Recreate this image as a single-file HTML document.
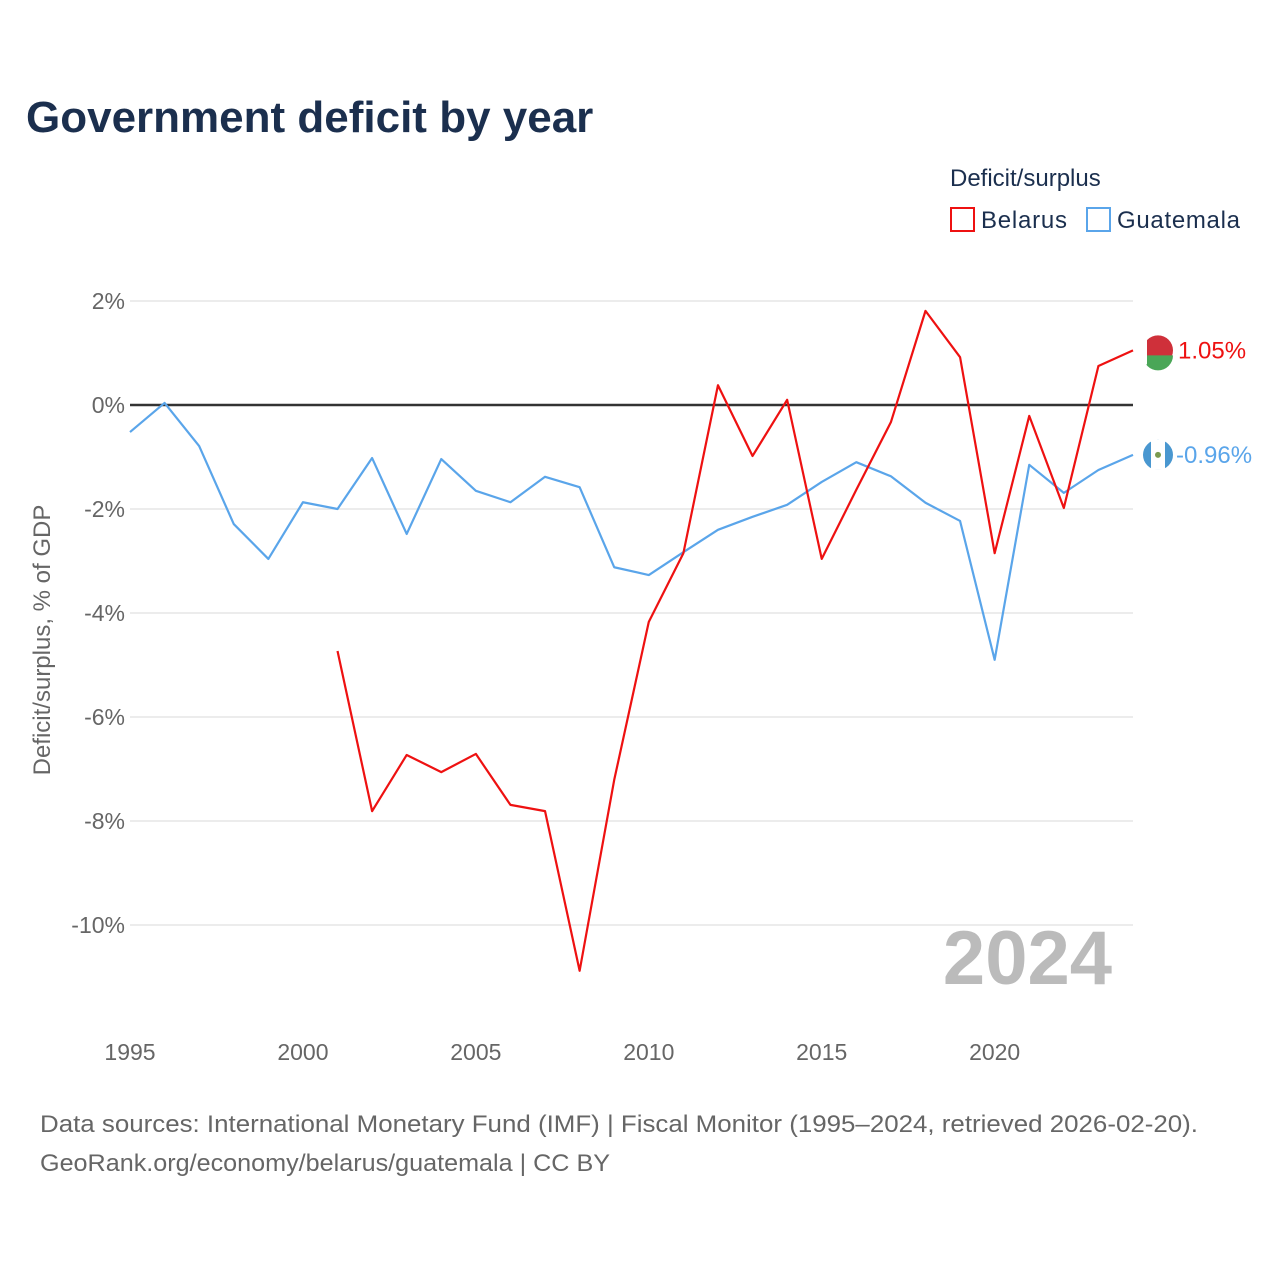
<!DOCTYPE html>
<html><head><meta charset="utf-8">
<style>
html,body{margin:0;padding:0;background:#fff;}
body{width:1280px;height:1280px;overflow:hidden;font-family:"Liberation Sans",sans-serif;}
</style></head>
<body>
<svg id="chart" width="1280" height="1280" xmlns="http://www.w3.org/2000/svg" font-family="Liberation Sans, sans-serif">
<text x="26" y="132" font-size="44" font-weight="bold" fill="#1b2f4e">Government deficit by year</text>
<text x="950" y="186" font-size="24" fill="#1b2f4e">Deficit/surplus</text>
<g><rect x="951" y="208" width="23" height="23" fill="none" stroke="#ee1111" stroke-width="2"/><text x="981" y="228" font-size="24" fill="#1b2f4e" textLength="86">Belarus</text></g>
<g><rect x="1087" y="208" width="23" height="23" fill="none" stroke="#5aa5ea" stroke-width="2"/><text x="1117" y="228" font-size="24" fill="#1b2f4e" textLength="123">Guatemala</text></g>
<text transform="translate(50,640) rotate(-90)" text-anchor="middle" font-size="24" fill="#666">Deficit/surplus, % of GDP</text>
<g id="grid"></g><g id="xticks"></g>
<text x="1112" y="984" text-anchor="end" font-size="76" font-weight="bold" fill="#bbb">2024</text>
<g id="series"></g>
<text x="40" y="1132" font-size="24" fill="#666" textLength="1158" lengthAdjust="spacingAndGlyphs">Data sources: International Monetary Fund (IMF) | Fiscal Monitor (1995–2024, retrieved 2026-02-20).</text>
<text x="40" y="1171" font-size="24" fill="#666" textLength="570" lengthAdjust="spacingAndGlyphs">GeoRank.org/economy/belarus/guatemala | CC BY</text>
</svg>
<script>
const years=[1995,1996,1997,1998,1999,2000,2001,2002,2003,2004,2005,2006,2007,2008,2009,2010,2011,2012,2013,2014,2015,2016,2017,2018,2019,2020,2021,2022,2023,2024];
const guatemala=[-0.52,0.04,-0.79,-2.29,-2.96,-1.87,-2.0,-1.02,-2.48,-1.04,-1.65,-1.87,-1.38,-1.58,-3.12,-3.27,-2.83,-2.40,-2.15,-1.92,-1.48,-1.10,-1.37,-1.88,-2.23,-4.90,-1.15,-1.69,-1.25,-0.96];
const belarus=[null,null,null,null,null,null,-4.73,-7.81,-6.73,-7.06,-6.71,-7.69,-7.81,-10.88,-7.21,-4.17,-2.85,0.38,-0.98,0.10,-2.96,-1.63,-0.33,1.81,0.92,-2.85,-0.21,-1.98,0.75,1.05];
const yTicks=[2,0,-2,-4,-6,-8,-10];
const xTicks=[1995,2000,2005,2010,2015,2020];
const NS="http://www.w3.org/2000/svg";
const X=y=>130+(y-1995)*(1133-130)/29;
const Y=v=>405-v*52;
function mk(t,a,p){const e=document.createElementNS(NS,t);for(const k in a)e.setAttribute(k,a[k]);p.appendChild(e);return e;}
const grid=document.getElementById('grid');
yTicks.forEach(v=>{
  const l=mk('line',{x1:130,x2:1133,y1:Y(v),y2:Y(v),stroke:v===0?'#333':'#e6e6e6','stroke-width':v===0?2.5:1.5},grid);
  
  
  const t=mk('text',{x:125,y:Y(v)+8,'text-anchor':'end','font-size':23,fill:'#666'},grid);
  t.textContent=v+'%';
  
  
});
const xt=document.getElementById('xticks');
xTicks.forEach(v=>{
  const t=mk('text',{x:X(v),y:1060,'text-anchor':'middle','font-size':23,fill:'#666'},xt);
  t.textContent=v;
  
  
});
const s=document.getElementById('series');
function line(vals,color,name){
  let d='';let first=true;
  vals.forEach((v,i)=>{if(v===null)return;d+=(first?'M':'L')+X(years[i])+','+Y(v);first=false;});
  const p=mk('path',{d:d,fill:'none',stroke:color,'stroke-width':2.2,'stroke-linejoin':'round'},s);
  
  
}
line(guatemala,'#5aa5ea','guatemala-line');
line(belarus,'#ee1111','belarus-line');
const bl=belarus[belarus.length-1], gl=guatemala[guatemala.length-1];
const bf=mk('g',{},s);


mk('circle',{cx:1158,cy:Y(bl),r:15,fill:'#cf303a'},bf);
mk('path',{d:`M1143,${Y(bl)+5} L1173,${Y(bl)+5} A15,15 0 0 1 1143,${Y(bl)+5}Z`,fill:'#4aa657'},bf);
mk('rect',{x:1143,y:Y(bl)-14,width:4,height:28,fill:'#fff'},bf);
const bt=mk('text',{x:1178,y:Y(bl)+8,'font-size':24,fill:'#ee1111'},s);
bt.textContent=bl.toFixed(2)+'%';


const gf=mk('g',{},s);


mk('circle',{cx:1158,cy:Y(gl),r:15,fill:'#4997d0'},gf);
mk('rect',{x:1151,y:Y(gl)-15,width:14,height:30,fill:'#fff'},gf);
mk('circle',{cx:1158,cy:Y(gl),r:3,fill:'#7a9a50'},gf);
const gt=mk('text',{x:1176,y:Y(gl)+8,'font-size':24,fill:'#5aa5ea'},s);
gt.textContent=gl.toFixed(2)+'%';


</script>
</body></html>
